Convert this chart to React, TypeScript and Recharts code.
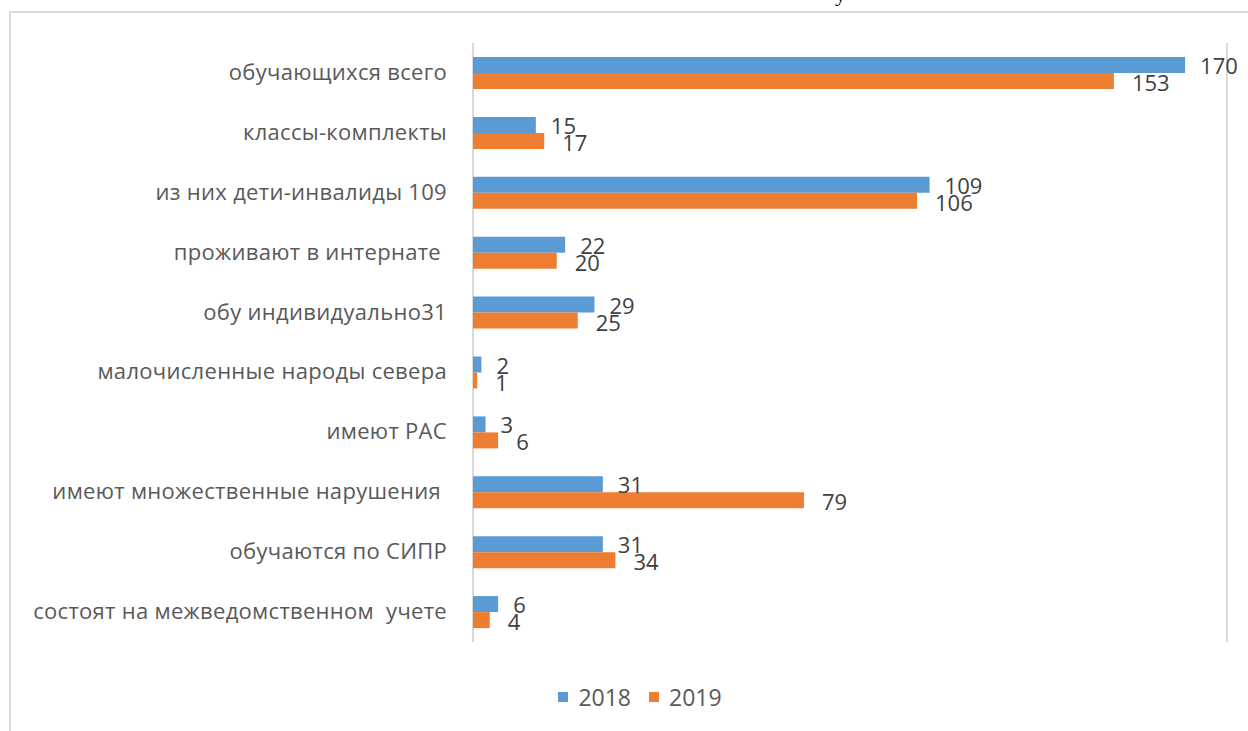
import React from "react";
import { Bar, BarChart, CartesianGrid, LabelList, XAxis, YAxis } from "recharts";

const categories = [
  "обучающихся всего",
  "классы-комплекты",
  "из них дети-инвалиды 109",
  "проживают в интернате ",
  "обу индивидуально31",
  "малочисленные народы севера",
  "имеют РАС",
  "имеют множественные нарушения ",
  "обучаются по СИПР",
  "состоят на межведомственном  учете",
];
const values2018 = [170, 15, 109, 22, 29, 2, 3, 31, 31, 6];
const values2019 = [153, 17, 106, 20, 25, 1, 6, 79, 34, 4];
const xTicks = [0, 20, 40, 60, 80, 100, 120, 140, 160, 180];
const seriesNames = ["2018", "2019"];

const BLUE = "#5b9bd5";
const ORANGE = "#ed7d31";
const FONT = "'Open Sans', sans-serif";

const data = categories.map((name, i) => ({
  name,
  y2018: values2018[i],
  y2019: values2019[i],
}));

// y axis sits at x=473, labels end near x=447
const CategoryTick = (props: any) => {
  const { y, payload } = props;
  return (
    <text
      x={447}
      y={y}
      dy={7}
      textAnchor="end"
      fill="#595959"
      fontSize={22}
      letterSpacing={0.3}
      fontFamily={FONT}
      style={{ whiteSpace: "pre" }}
    >
      {payload.value}
    </text>
  );
};

const makeLabel = (dx: number, dy: number) => (props: any) => {
  const { x, y, width, height, value } = props;
  return (
    <text
      x={x + width + dx}
      y={y + height / 2 + dy}
      dy={8}
      fill="#404040"
      fontSize={22}
      fontFamily={FONT}
    >
      {value}
    </text>
  );
};

export default function App() {
  return (
    <div
      style={{
        position: "absolute",
        left: 0,
        top: 0,
        width: 1248,
        height: 731,
        background: "#fff",
        overflow: "hidden",
      }}
    >
      <div
        style={{
          position: "absolute",
          left: 835,
          top: -19,
          fontFamily: "'Liberation Serif', serif",
          fontSize: 22,
          color: "#000",
        }}
      >
        у
      </div>
      <div
        style={{
          position: "absolute",
          left: 9,
          top: 11,
          width: 1300,
          height: 800,
          borderTop: "2px solid #d9d9d9",
          borderLeft: "2px solid #d9d9d9",
        }}
      />
      <div style={{ position: "absolute", left: 0, top: 0 }}>
        <BarChart
          width={1248}
          height={731}
          data={data}
          layout="vertical"
          margin={{ top: 43, right: 21, bottom: 89, left: 0 }}
          barSize={16}
          barGap={0}
        >
          <CartesianGrid horizontal={false} stroke="#d9d9d9" strokeWidth={2} />
          <XAxis
            type="number"
            domain={[0, 180]}
            ticks={xTicks}
            tick={false}
            axisLine={false}
            tickLine={false}
            height={0}
          />
          <YAxis
            type="category"
            dataKey="name"
            width={473}
            axisLine={false}
            tickLine={false}
            tick={<CategoryTick />}
            interval={0}
          />
          <Bar dataKey="y2018" fill={BLUE} isAnimationActive={false}>
            <LabelList dataKey="y2018" content={makeLabel(15, 1)} />
          </Bar>
          <Bar dataKey="y2019" fill={ORANGE} isAnimationActive={false}>
            <LabelList dataKey="y2019" content={makeLabel(18, 2)} />
          </Bar>
        </BarChart>
      </div>
      <div
        style={{
          position: "absolute",
          left: 0,
          top: 683,
          width: 1280,
          display: "flex",
          justifyContent: "center",
          fontFamily: FONT,
          fontSize: 23,
          color: "#595959",
          lineHeight: "28px",
        }}
      >
        {seriesNames.map((n, i) => (
          <div
            key={n}
            style={{ display: "flex", alignItems: "center", marginRight: i === 0 ? 18 : 0 }}
          >
            <span
              style={{
                display: "inline-block",
                width: 10,
                height: 10,
                background: i === 0 ? BLUE : ORANGE,
                marginRight: 10,
              }}
            />
            {n}
          </div>
        ))}
      </div>
    </div>
  );
}
